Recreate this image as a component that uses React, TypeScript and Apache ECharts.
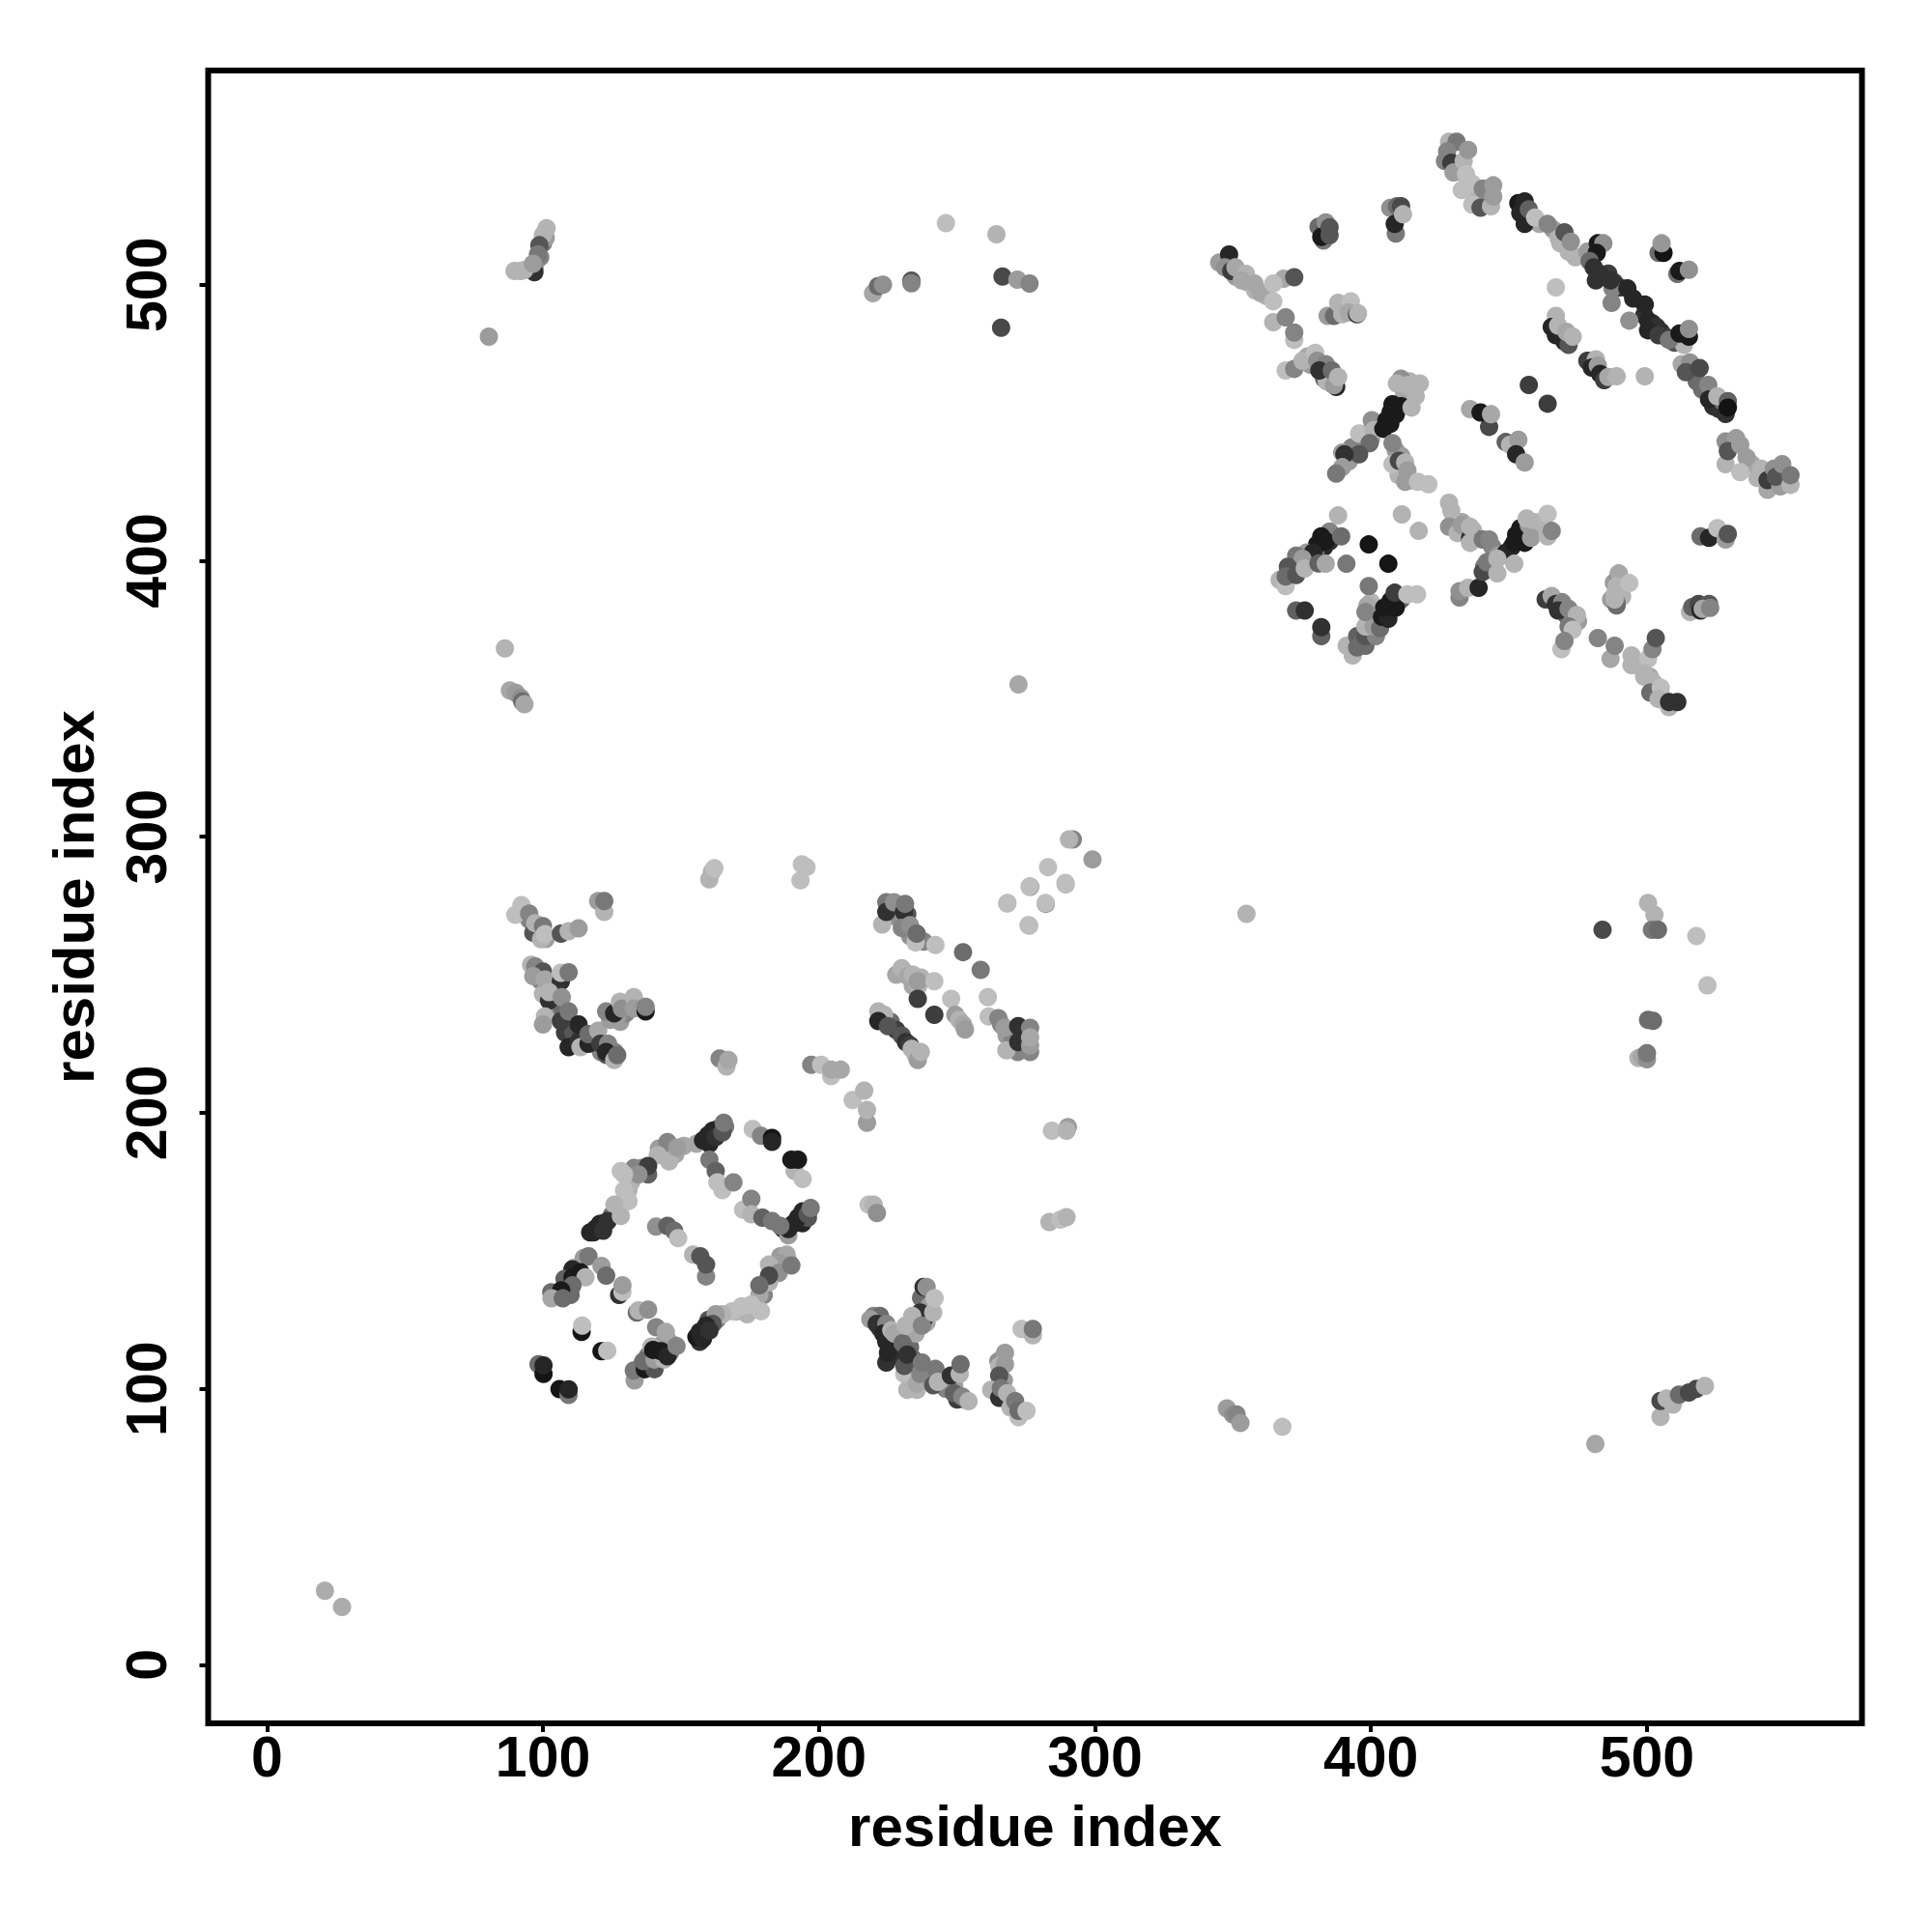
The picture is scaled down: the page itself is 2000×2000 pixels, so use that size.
import React, { useEffect, useRef } from "react";
import * as echarts from "echarts";

// Each point: [residue i, residue j, contact strength 0..1 (darker = stronger)]
const topRightChain = [
[428.3,551.8,.3],[431,551.8,.55],[427.6,548.3,.5],[426.8,544.8,.5],[429.1,544.2,.8],[429.9,540.7,.4],[433.6,544.8,.3],[435.2,548.8,.42],[434.4,540.1,.2],[436.7,536.6,.25],[432.9,534.3,.2],[436.7,529,.2],[439.7,527.9,.7],[440.5,534.8,.5],[443.5,528.4,.3],[444.3,536,.4],[444.3,531.9,.4],
[453.4,529.6,.95],[455.7,530.2,.9],[454.1,526,.9],[455.7,522,.9],[457.2,527.3,.65],[459.5,524.3,.25],[464,522,.5],[468.6,515,.3],[471.6,512,.3],[470.1,519,.7],[472.4,515.6,.45],
[478.4,512,.4],[482.2,515,.95],[484.2,515,.45],[481.8,511.5,.95],[479.2,508.6,.6],[480.7,506.3,.85],[483,503.9,.85],[487.5,498.7,.5],[481.5,501.6,.85],[486.8,501.6,.85],[487.2,493.4,.5],[492.9,498.7,.9],
[499.2,492.8,.9],[493.6,487,.45],[500.4,487,.9],[503.5,484.7,.85],[500.4,483.5,.9],[504.2,481.7,.8],[513.4,478.2,.3],[508,480,.55],[511.8,482.3,.95],[515.2,481.2,.95],[515.2,484,.45],
[512.6,471.2,.35],[515.6,471.8,.45],[514.1,468.3,.7],[519.1,469.8,.75],[522.2,463.7,.5],[522.5,458.4,.9],[525.5,459.6,.3],[529.3,457.8,.65],[528.5,453.2,.85],[529.3,455.5,.98],
[528.5,443.2,.45],[532.3,444.4,.4],[528.5,435,.3],[529.3,439.7,.7],[533.8,442,.4],[536.1,437.4,.4],[533.8,432.1,.25],[541.4,433.3,.3],[543.7,425.7,.35],[543.7,429.2,.8],[546,433.3,.45],[548.3,426.9,.4],[546.7,430.4,.7],[549,435,.45],[552,427.5,.3],[552,431,.55],
[467,499,.25],[499.2,466.8,.3],[457.2,463.7,.8],[464,456.9,.8],
[504.2,511.5,.6],[506,511.5,.98],[505.3,515,.42],[511,503.9,.6],[511.8,505,.95],[515.2,505.4,.45],
[467,488.7,.3],[465.5,484.7,.9],[467,481.7,.9],[470.1,479.4,.9],[471.6,478.2,.7],[467.8,485.2,.3],[470.8,482.9,.35],[473.1,481.2,.3],
[478.4,472.4,.8],[481.5,473,.3],[480,470,.9],[482.2,470.7,.4],[483,467.7,.9],[484.5,465.4,.8],[486,466.6,.35],[489,466.8,.3],
];

const upperMiddleCluster = [
[407,527.8,.45],[409.4,528.4,.6],[410.9,528.4,.75],[409,518.5,.55],[408.6,522,.9],[411.6,525.5,.3],
[383.6,522.6,.45],[382.8,516,.55],[382,517.3,.95],[385,517.9,.7],[385,520.8,.7],
[348.6,510.9,.9],[347.1,506.3,.45],[349.4,505,.8],[350.9,506.3,.35],[354.7,503.9,.3],[353.2,501.6,.35],[357.8,500.4,.35],[360,497,.35],[368.4,502.2,.35],[364.6,500.4,.25],[372.2,502.7,.7],[364.6,494,.25],[364.6,486.4,.3],[369.1,488.2,.5],[372.2,480,.25],[372.2,482.7,.5],
[384.3,488.7,.4],[386.6,488.7,.6],[388.1,493.4,.3],[389.6,489.3,.3],[392.7,494,.2],[391.9,489.9,.35],[395,489.3,.9],[395.3,489.7,.3],
[369.1,468.9,.25],[372.2,469.5,.5],[375.2,472.4,.3],[379.8,475.3,.25],[380.5,472.4,.45],[383.6,471.2,.5],[381.3,468.9,.85],[387.4,463,.9],[385.8,468.9,.6],[386.6,463.6,.4],[388.1,466.6,.3],
[395.7,446.1,.25],[400.3,450.9,.45],[401,447.3,.3],[399.5,442.6,.6],[389.6,439.2,.4],[395.7,438.6,.7],[390.4,438.6,.85],[389.6,433.9,.4],[387.4,431.6,.55],
[407.1,453.8,.95],[405.6,450.9,.95],[407,449.6,.95],[404.5,447.8,.95],[411,456,.95],[407.8,456.7,.95],[409,453,.95],[410.9,466,.45],[409.4,464.2,.3],[414.7,455.5,.3],[416.2,459.6,.3],[413.2,463.6,.3],[417.7,464.2,.3],
[407.8,442.6,.5],[407.8,435,.25],[410.1,436.2,.75],[412.4,435.6,.3],[413.2,432.7,.4],[412.4,428.6,.4],[417,428.6,.2],[420.8,427.7,.2],
[435.9,454.9,.35],[442.8,448.5,.75],[439.7,453.7,.95],[443.5,453.1,.35],
[448.8,443,.65],[450.4,442,.3],[453.4,443.8,.4],[452.6,438.6,.9],[455.7,435.6,.4],
];

const centerRightCluster = [
[388.1,416.4,.3],[385,410.6,.5],[382,408.8,.95],[380.5,405.9,.95],[383.6,407.1,.95],[389.2,408.8,.6],[376.7,403,.4],[379,403,.9],[372.9,401.8,.55],[375.2,400.7,.4],[366.9,393.1,.3],[369.1,390.8,.25],[369.9,397.8,.7],[369.1,394.3,.6],[372.9,394.8,.7],[376,397.2,.3],[381,399,.65],[383.6,398.9,.35],[391.1,398.9,.55],
[399.2,405.9,.97],[406.3,398.9,.97],[399.2,390.8,.55],[372.9,382,.65],[376,382,.85],[382,372.7,.65],[382,375.9,.85],
[393.4,365.7,.3],[391.2,369.2,.3],[395,372.7,.65],[395,368.6,.6],[398,369.2,.6],[398,372.7,.7],[401.8,372.7,.5],[398,376.2,.3],[401,376.2,.4],[403.3,375.6,.6],[398.7,383.7,.35],[398,381.4,.5],[404,379.7,.95],[406.3,379,.9],[404.8,383,.95],[407.1,385.5,.95],[409,383,.95],[408.6,388.4,.8],[413.2,387.8,.25],[416.7,387.8,.25],
[411.2,416.8,.3],[417.3,410.8,.3],
[428.3,421,.3],[429.1,418.2,.3],[428.3,412.3,.45],[431.4,410,.3],[432.9,412.9,.4],[435.9,408.3,.85],[435.9,406.5,.3],[435.9,412.3,.3],[440.5,407.7,.55],[442.8,407.7,.5],
[432.1,386.7,.5],[432.1,389,.45],[435.2,390.2,.3],[439,390.2,.9],[440.5,396,.75],[442,399.5,.55],[445.8,395.4,.3],[445.8,400.7,.3],[451.9,398.9,.3],
[454.1,411.8,.95],[452.6,409.4,.95],[451.9,406.5,.95],[455.7,406.5,.95],[457.2,412.9,.4],[456.4,415.3,.3],[459.5,414,.3],[458,408.3,.4],[464,417,.25],[464,408.8,.3],[465.5,410.8,.5],
[519.4,408.8,.6],[522.5,408.3,.9],[525.5,411.8,.25],[528.5,407.7,.4],[529.3,409.7,.7],
[515.6,381.4,.3],[516.4,383.2,.65],[518.7,384.3,.75],[522.5,384.3,.7],[519.4,382,.9],[520.2,382.6,.35],[522.9,382.9,.5],
[463.3,386,.8],[465.5,387.2,.35],[467,384.3,.85],[469.3,384.9,.5],[467.8,382,.85],[471.6,382.6,.5],[474.6,380.3,.3],[471.6,376.2,.55],[473.1,375,.25],[469,368,.25],[470.1,370.9,.5],
[489.8,394.8,.6],[489.8,395.4,.35],[489,383.8,.6],[488.3,387.8,.3],[488.3,386,.3],[489,390.8,.3],[493.6,391.9,.25],
[482.2,372,.5],[486.8,364.5,.35],[488.3,369.2,.5],[494.4,365.7,.3],[500.4,364.5,.25],[502,368,.5],[503.2,372,.7],[494.4,362.2,.3],[498.9,359.2,.3],[502,356.3,.3],[501.2,352.2,.6],[505,354,.25],[504.2,349.9,.3],[508,347,.3],[508,348.8,.85],[511,348.8,.85],
];

const upperLeftCluster = [
[101.3,520.5,.3],[100,518,.3],[96.9,504.5,.85],[93.3,505.3,.3],[89.7,505,.3],[98.7,514.3,.7],[98.2,511,.55],[96.4,507.6,.4],[80.4,481.2,.4],
[246,522.3,.25],[264.3,518.3,.3],[266.5,503,.75],[271.9,501.8,.4],[276.3,500.4,.5],[266,484.4,.75],[219.6,496.9,.35],[221.4,499.5,.6],[223.2,500,.45],[233.5,501.5,.7],[233.5,500.5,.5],
[86.2,368.2,.3],[88,353,.35],[90.2,352.1,.4],[92,350.3,.45],[92.5,349,.6],[93.3,348,.35],[272.3,355.2,.35],
[292,299,.5],[290.6,299,.3],[299.1,291.8,.4],[283,289,.2],[289.3,283.3,.25],[276.3,282,.25],[268.3,276,.2],[282.1,276,.25],[275.9,268,.25],
[161.2,287.3,.3],[160.3,284.6,.3],[162.1,288.6,.25],[193.8,290,.25],[195.5,289,.25],[193.3,284.2,.25],[354.9,272.1,.3],
];

const midLeftCluster = [
[92.2,275.2,.25],[90,271.7,.25],[95,272.2,.5],[96.5,265.2,.7],[97.2,268.7,.3],[100,267.6,.55],[99.3,262.9,.3],[100.7,264.7,.25],[106.5,264.9,.7],[109.3,265.8,.3],[112.9,266.8,.4],[120,276.7,.4],[122.2,272.8,.3],[122.2,276.7,.55],
[95.7,253.6,.3],[97.2,253,.5],[100,251.2,.7],[96.5,249.5,.4],[100.7,248.3,.35],[106.5,247.7,.85],[106.5,250.7,.25],[109.3,250.9,.55],[102.2,240.7,.85],[102.2,243.7,.3],[106.8,241.9,.45],
[100.7,234.9,.3],[100,232,.4],[106.5,233.2,.8],[109.3,236.7,.55],[109.3,223.8,.9],[112.9,225.6,.85],[112.9,232,.9],[113.6,223.8,.3],[116.5,225,.9],[116.5,228.5,.6],[120,229.7,.35],[120.8,225,.8],[123.6,225,.5],[122.9,222,.9],[125.8,219.1,.3],[126.9,220.9,.6],
[124.3,233.7,.4],[122.9,236.7,.5],[125.8,236,.9],[127.9,240.2,.3],[128.6,237.8,.45],[132.9,241.9,.3],[132.9,237.8,.4],[137.2,236.7,.95],[137.2,238.4,.5],
[164,219.7,.5],[166.5,216.8,.3],[167.2,219.1,.35],[197.2,217.4,.5],[200.8,217.4,.25],[204.4,213.3,.25],[204.4,215.6,.35],[207.9,215.6,.35],[212.2,204.6,.25],[216.4,208,.3],[217.4,196.4,.4],[217.4,201,.3],
];

const midCenterCluster = [
[222.9,268.2,.3],[224.4,276.3,.55],[224.4,272.8,.85],[227.2,276.3,.45],[230.8,272.8,.85],[231.2,275.7,.55],[230,267,.5],[233,268,.45],[235,261.7,.25],[235.4,264.9,.6],[242.2,260.8,.25],[252.2,258.2,.6],[258.6,251.8,.55],[261.2,241.9,.2],[247.9,241.3,.25],
[230,252.4,.3],[232.2,249.5,.35],[234,250,.3],[235.8,247.7,.4],[241.8,247.7,.25],[235.8,241.3,.8],[241.8,235.5,.8],
[249.4,235.5,.4],[250.8,233.7,.3],[252.2,232,.35],[252.9,230.2,.4],
[221.5,236.7,.3],[223.6,235.5,.3],[221.5,233.2,.9],[225,231.4,.7],[231.5,225.6,.85],[233,224.5,.8],[233.6,223.2,.3],[235.8,219.1,.4],[236.9,222,.3],
[261.5,234.9,.25],[265,234.3,.5],[267.2,230.8,.4],[267.9,222.6,.3],[272.2,231.4,.85],[272.2,225.6,.85],[276.5,230.8,.5],[276.5,222,.5],[276.5,224.4,.4],[276.5,227.3,.35],
[268.2,275.8,.25],[276.5,281.9,.5],[282.2,275.7,.45],[289.4,282.7,.25],[276.2,267.8,.25],
];

const ringCluster = [
[155.6,188.8,.35],[158,190,.9],[159.7,191.7,.9],[161.5,193.5,.9],[160.3,188.8,.9],[162.6,191.2,.85],[165,192.9,.7],[165.5,196.4,.55],
[176,194.1,.25],[179,191.7,.5],[183,190.9,.97],[183,189.5,.9],
[191.2,178.9,.3],[194.1,176,.25],[190,183,.95],[192.4,183,.95],
[188.9,155.6,.4],[188.9,157.9,.9],[190.6,159.7,.9],[192.4,162,.9],[194.1,164.3,.9],[195.9,163.2,.7],[197,165.5,.55],
[188.3,148.6,.35],[186,145.6,.4],[181.9,145,.3],[185.4,142,.45],[190,144.7,.55],[181.9,138.6,.3],[181.9,141,.75],[178.4,134,.35],[178.4,137.5,.6],
[179,128.1,.25],[175.5,130.5,.25],[172,129.9,.25],[168.5,128.1,.25],[165,127,.3],[162.6,127,.4],[161.5,123.5,.7],[156.8,117,.85],[155.6,118.8,.95],[158,118.2,.9],[156.8,120.6,.9],[159.1,122.9,.9],[160.3,121.1,.85],
[145.1,189.4,.5],[141.6,184.7,.3],[145.7,182.4,.3],[138.1,177.7,.65],[138.1,180.7,.8],[148.6,187.4,.4],[134.6,177.7,.45],
[128.2,178.9,.25],[129.4,177.7,.25],[129.4,171.9,.25],[128.2,167.2,.25],[125.9,166.7,.3],
[117.1,156.7,.9],[118.3,156.7,.9],[120.6,159.7,.9],[121.8,157.3,.85],[123.5,160.8,.85],[128.2,162.6,.3],
[141,158.8,.45],[145.1,159,.65],[147.5,157.3,.6],[149,154.6,.25],[154.4,148.6,.3],[157,148,.7],[159.1,140.7,.5],[159.1,145,.7],
[160.3,183,.55],[162.6,178.9,.65],[163.2,174.8,.25],[165,172,.25],[169,174.8,.5],
[172.5,164.9,.25],[175.5,168.8,.5],[175.5,163.2,.3],[179.5,162,.65],[183,160.8,.55],[186,159,.55],
[111.3,143.9,.3],[114.8,147.4,.4],[116.5,148,.55],[110.7,143.3,.9],[113.6,142.2,.95],[107.8,139.8,.65],[110.7,140.4,.95],[115.4,140.4,.3],[121.2,144.5,.4],[122.9,141,.6],[110.7,137.5,.6],[106.6,135.7,.95],[103.1,132.8,.35],[107.2,132.8,.6],
[127.6,134,.85],[128.8,135.1,.25],[128.8,137.5,.4],
[134,127.6,.6],[134.6,128.4,.3],[138.1,128.7,.45],
[133.2,103,.4],[132.9,106.6,.55],[136.9,107.1,.95],[140.4,107.1,.7],[136.4,110,.6],[140.4,110.6,.4],[143.9,110.6,.3],[139.3,115.3,.3],[139.9,114.1,.95],[142.8,113.6,.95],[145.1,111.8,.9],[141,122.3,.5],[144.5,120.6,.35],[148.4,115.5,.5],
[114,120.6,.97],[114.2,122.9,.25],[121.2,113.6,.97],[123.3,113.8,.25],
[98.4,108.9,.6],[100.2,105.4,.97],[100.2,108.5,.9],[106,99.9,.97],[109.3,97.8,.55],[109.3,99.8,.9],
[218,166.7,.25],[219.8,166.7,.3],[221,163.7,.45],
[284.4,193.5,.25],[290.2,194.8,.4],[289.7,193.5,.3],[283.5,160.4,.3],[287.5,161.3,.25],[289.7,162.2,.3],
];

const lowerCluster = [
[219.8,126.4,.5],[222.1,126.4,.6],[218.6,125.2,.4],[224.4,109.5,.85],[225,113,.9],[220.9,123.5,.85],[224.4,123.5,.5],[223.3,120,.9],[224.4,117,.9],[226.2,121.2,.3],[227.3,120,.35],
[230.9,105.4,.25],[232,99.6,.3],[235.5,99.6,.3],[235.5,101.9,.35],[236.7,105.4,.5],[230.9,108.3,.7],[230.3,116.5,.6],[232,112.4,.85],[237.3,109.5,.55],
[236.7,127.6,.85],[237.9,136.9,.85],[239,136.9,.45],[237.9,125,.85],[231.4,122.9,.3],[233.8,126.4,.3],[237.3,122.9,.5],[241.4,127.6,.3],[241.9,132.8,.25],
[241.4,101.3,.7],[242.2,107.2,.55],[243.1,102.5,.3],[247.8,104.8,.85],[251,105.4,.3],[251.3,108.9,.6],[250.1,96.1,.8],[248.9,98.4,.65],[251.9,97.2,.5],[254.2,95.5,.3],
[273.4,121.7,.25],[277.5,119.4,.3],[277.5,121.7,.55],
[267.4,113,.4],[265.3,108.3,.3],[267.4,108.9,.4],[265.3,104.8,.7],[262.4,99.6,.3],[265.3,96.7,.85],[265.9,100.2,.55],[268.2,98.4,.3],[269.4,93.2,.3],[272.3,89.7,.25],[271.1,95.5,.55],[272.3,92,.6],[275.2,92,.25],
];

const lowerRightPoints = [
[347.8,92.9,.4],[350,90.7,.45],[351.3,90.7,.5],[352.7,87.6,.4],[367.9,86.2,.25],
[481.3,80,.35],[504.9,89.8,.3],[504.9,95.6,.75],[507.1,96.5,.3],[509.4,94.3,.3],[511.6,97.9,.6],[515.2,98.7,.75],[517.9,100,.75],[521,101,.3],
[483.9,266.3,.75],[500.4,276,.3],[502.7,271.7,.3],[501.8,266.3,.55],[504,266.3,.6],[517.9,264,.25],[521.9,246.2,.25],
[500.4,233.7,.6],[502.2,233.3,.6],[496.9,219.8,.3],[498.2,220.3,.35],[500,219.4,.45],[500,221.6,.55],
[21,26.8,.33],[27.2,21,.33],
];

// Extra overlapping contacts that thicken the bands; drawn underneath the clusters above
const upperBandPoints = [
[437,535,.25],[438,532,.3],[441,529,.4],[435,538,.3],[461,522,.35],[466,520,.4],[468,517,.3],[474,510,.3],
[486,504,.8],[488,501,.8],[490,499,.85],[495,495,.9],[499,489,.85],[502,486,.85],[505,483,.85],[507,481,.8],[510,479,.7],
[518,465,.6],[520,462,.6],[524,456,.85],[526,455,.85],[527,458,.6],[538,435,.35],[540,430,.3],[544,432,.4],[550,429,.35],
[351,503,.4],[355,501,.35],[358,498,.3],[362,496,.3],[345,508,.4],[377,474,.35],[378,471,.4],[383,466,.6],[385,466,.5],[386,464,.7],[384,465,.3],
[381,521,.6],[383,519,.7],[413,458,.3],[415,461,.3],[416,463,.3],[412,461,.35],[414,465,.3],[396,443,.4],[398,446,.3],[400,444,.4],[393,441,.5],[392,436,.4],[409,440,.4],[411,438,.4],[410,431,.3],[414,429,.3],
[383,405,.9],[385,409,.5],[378,402,.7],[374,399,.5],[371,396,.6],[368,393,.4],[385,407,.85],[380,402,.6],
[395,370,.4],[397,371,.5],[400,373,.5],[402,378,.9],[403,377,.85],[405,381,.85],[407,382,.95],[409,385,.9],[411,386,.6],[399,376,.5],[400,385,.3],
[430,415,.3],[433,414,.35],[437,411,.3],[438,408,.6],[444,405,.5],[446,402,.4],[441,398,.5],[448,402,.35],[449,403,.9],[451,405,.9],[453,407,.9],[455,409,.9],[457,410,.5],[460,411,.3],[462,412,.3],
[469,385,.5],[471,380,.6],[473,378,.4],[475,378,.4],[488,392,.4],[490,393,.4],[487,386,.4],[491,387,.3],[489,385,.5],
[497,362,.3],[499,358,.3],[501,358,.35],[503,353,.4],[505,351,.4],[507,349,.5],[503,355,.3],
];

const lowerBandPoints = [
[92,505,.3],[97,506,.4],[100,515,.55],[99,510,.5],[101,517,.4],
[95,270,.5],[98,266,.45],[101,263,.4],[99,248,.5],[103,247,.6],[100,243,.3],[104,238,.5],[107,238,.6],[108,229,.8],[111,229,.7],[114,228,.8],[118,227,.7],[121,222,.5],[123,221,.7],[124,223,.6],[126,222,.5],[128,233,.4],[130,236,.5],[134,239,.4],[136,238,.35],[127,235,.4],
[228,250,.35],[234,246,.35],[236,246,.3],[237,249,.3],[233,250,.35],[232,272,.7],[228,271,.45],[231,268,.4],[233,264,.45],[238,262,.5],[266,232,.5],[268,228,.4],[270,226,.5],[273,229,.4],[270,230,.5],[274,226,.6],[272,222,.5],[224,234,.5],[226,233,.6],[228,230,.8],[230,228,.7],[235,221,.3],
[164,193,.8],[160,192,.85],[163,194,.7],[166,195,.55],[132,175,.3],[131,172,.3],[130,169,.25],[131,168,.25],[133,180,.5],[136,180,.5],[142,187,.4],[148,185,.35],[151,188,.35],[119,158,.9],[122,160,.85],[125,163,.6],[103,135,.6],[110,134,.6],[108,137,.7],
[186,148,.4],[189,146,.45],[183,142,.5],[180,134,.5],[170,128,.3],[174,127,.3],[177,129,.3],[163,125,.5],[160,125,.7],[158,120,.9],[187,158,.9],[194,160,.9],[196,162,.7],[136,109,.6],[138,112,.5],[141,112,.6],[143,116,.4],[146,113,.5],[147,116,.45],[145,118,.4],
[222,122,.8],[225,119,.5],[228,119,.6],[227,114,.7],[230,113,.8],[233,115,.6],[234,111,.6],[228,112,.85],[237,103,.4],[240,104,.5],[243,105,.5],[245,103,.4],[246,100,.5],[249,101,.4],[253,96,.45],[237,133,.6],[240,130,.4],[236,125,.4],[239,124,.35],[235,120,.35],
[265,110,.45],[267,103,.4],[268,96,.55],[270,96,.4],
];

const allPoints = [
  ...lowerBandPoints, ...upperBandPoints,
  ...lowerRightPoints, ...lowerCluster, ...midCenterCluster, ...midLeftCluster, ...ringCluster,
  ...upperLeftCluster, ...upperMiddleCluster, ...centerRightCluster, ...topRightChain,
];

const tickValues = [0, 100, 200, 300, 400, 500];
const axisTitle = "residue index";
const FONT = '"Liberation Sans", Arial, sans-serif';

function shadeColor(s: number) {
  const v = Math.min(190, Math.round(250 - 236 * s));
  return `rgb(${v},${v},${v})`;
}

export default function App() {
  const ref = useRef<HTMLDivElement>(null);
  useEffect(() => {
    const chart = echarts.init(ref.current!, undefined, { renderer: "svg" });
    const axisCommon = {
      type: "value",
      axisLine: { show: false, onZero: false },
      splitLine: { show: false },
      axisTick: { show: true, length: 9, customValues: tickValues, lineStyle: { color: "#000", width: 4 } },
      name: axisTitle,
      nameLocation: "middle",
      nameTextStyle: { fontFamily: FONT, fontWeight: "bold", fontSize: 60, color: "#000" },
    };
    chart.setOption({
      animation: false,
      backgroundColor: "#fff",
      grid: { left: 215.5, top: 73, width: 1712, height: 1711, show: true, borderColor: "#000", borderWidth: 6, backgroundColor: "transparent" },
      xAxis: {
        ...axisCommon,
        min: -21.3,
        max: 577.9,
        nameGap: 76,
        axisLabel: { customValues: tickValues, margin: 5, fontFamily: FONT, fontWeight: "bold", fontSize: 59, color: "#000" },
      },
      yAxis: {
        ...axisCommon,
        min: -21.2,
        max: 577.6,
        nameGap: 109,
        axisLabel: { customValues: tickValues, rotate: 90, margin: 34, fontFamily: FONT, fontWeight: "bold", fontSize: 59, color: "#000", align: "center", verticalAlign: "bottom" },
      },
      series: [
        {
          type: "scatter",
          data: allPoints,
          symbol: "circle",
          symbolSize: 19,
          itemStyle: { color: (p: any) => shadeColor(p.value[2]), opacity: 1 },
          clip: false,
        },
      ],
    });
    return () => chart.dispose();
  }, []);
  return <div ref={ref} style={{ position: "absolute", left: 0, top: 0, width: 2000, height: 2000 }} />;
}
